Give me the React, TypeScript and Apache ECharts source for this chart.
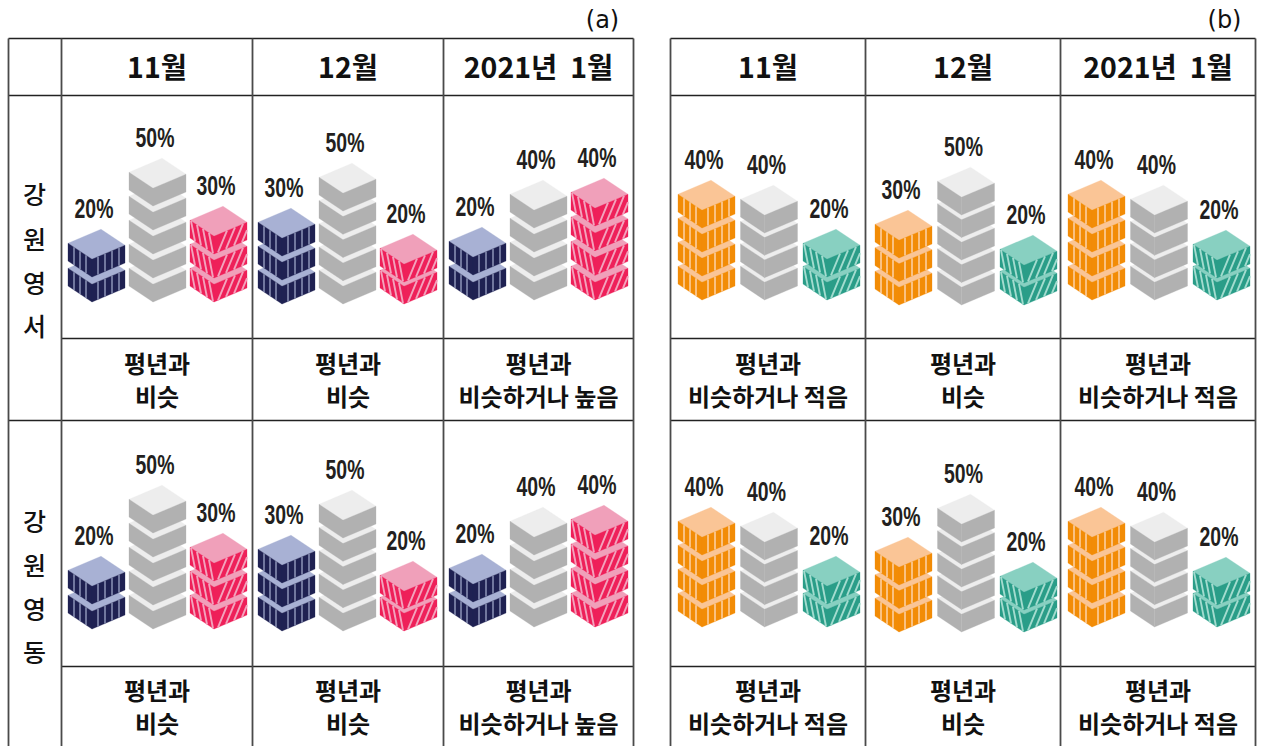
import React, { useEffect, useRef } from "react";
import * as echarts from "echarts";

// ---------- data ----------
const months = ["11월", "12월", "2021년  1월"];
const regions = [["강", "원", "영", "서"], ["강", "원", "영", "동"]];
const panelNames = ["(a)", "(b)"];
const categories = ["낮음", "비슷", "높음"];
const tempValues = [[20, 50, 30], [30, 50, 20], [20, 40, 40]];
const rainValues = [[40, 40, 20], [30, 50, 20], [40, 40, 20]];
const tempNotes = [["평년과", "비슷"], ["평년과", "비슷"], ["평년과", "비슷하거나 높음"]];
const rainNotes = [["평년과", "비슷하거나 적음"], ["평년과", "비슷"], ["평년과", "비슷하거나 적음"]];

// ---------- layout ----------
const CUBE_LEFT = 24, CUBE_RIGHT = 33, RISE_L = 16, RISE_R = 14, SIDE_RATIO = 0.74;
const PX_PER_TEN = 24;
const tables = [
  {
    cols: [8.5, 61.5, 252.5, 443.5, 633.5], firstBar: [68, 258, 449], pitch: 61, base: [302, 304, 300],
    topShift: [[-1, 0, 0], [0, 3, 2], [-1, 0, -2]],
  },
  {
    cols: [670.5, 865.5, 1060.5, 1255.5], firstBar: [678, 875, 1068], pitch: 62.5, base: [300, 305, 300],
    topShift: [[0, 5, 1], [1, 6, 2], [0, 5, 2]],
  },
];
const rows = { top: 38.5, head: 95.5, foot1: 338.5, mid: 420.5, foot2: 666.5, bottom: 746 };
const ROW_SHIFT = 327;

const styles = [
  { side: "#1f2152", top: "#a8b1d4", stripe: "#8e94b9", leanL: 0, leanR: 0, sw: 1.5, left: [6, 12, 18], right: [6, 13, 20, 27] },
  { side: "#b1b1b1", top: "#ededed", stripe: "", leanL: 0, leanR: 0, sw: 0, left: [], right: [] },
  { side: "#ee2059", top: "#f0a0ba", stripe: "#f3a3bd", leanL: -4, leanR: 9, sw: 1.9, left: [5, 11, 17, 23], right: [4, 12, 20, 28] },
  { side: "#f28c06", top: "#fac596", stripe: "#fcd3ab", leanL: 0, leanR: 0, sw: 1.5, left: [6, 12, 18], right: [6, 13, 20, 27] },
  { side: "#2a9d88", top: "#88d0c1", stripe: "#a3dccf", leanL: -4, leanR: 9, sw: 1.9, left: [5, 11, 17, 23], right: [4, 12, 20, 28] },
];

function cube(xv: number, y: number, side: number, s: any) {
  const kids: any[] = [];
  const poly = (points: number[][], fill: string) => ({
    type: "polygon", shape: { points }, style: { fill, stroke: fill, lineWidth: 0.3 },
  });
  const top = y - side;
  kids.push(poly([[xv, top], [xv - CUBE_LEFT, top - RISE_L], [xv - CUBE_LEFT + CUBE_RIGHT, top - RISE_L - RISE_R], [xv + CUBE_RIGHT, top - RISE_R]], s.top));
  kids.push(poly([[xv, top], [xv - CUBE_LEFT, top - RISE_L], [xv - CUBE_LEFT, y - RISE_L], [xv, y]], s.side));
  kids.push(poly([[xv, top], [xv + CUBE_RIGHT, top - RISE_R], [xv + CUBE_RIGHT, y - RISE_R], [xv, y]], s.side));

  // stripe from the face's lower edge to its upper edge, cut at the face's sides
  const stripe = (x0: number, x1: number, y0: number, y1: number, xb: number, lean: number) => {
    const lerp = (x: number) => y0 + (y1 - y0) * (x - x0) / (x1 - x0);
    const xt = xb + lean;
    const x2Raw = Math.max(x0, Math.min(x1, xt));
    const f = lean === 0 ? 1 : (x2Raw - xb) / lean;
    const yb = lerp(xb);
    const yt = lerp(xt) - side;
    return {
      type: "line",
      shape: { x1: xb, y1: yb, x2: xb + lean * f, y2: yb + (yt - yb) * f },
      style: { stroke: s.stripe, lineWidth: s.sw },
    };
  };
  s.left.forEach((d: number) => kids.push(stripe(xv - CUBE_LEFT, xv, y - RISE_L, y, xv - CUBE_LEFT + d, s.leanL)));
  s.right.forEach((d: number) => kids.push(stripe(xv, xv + CUBE_RIGHT, y, y - RISE_R, xv + d, s.leanR)));
  return kids;
}

function makeRenderItem(styleIdx: number[], topShift: number[]) {
  return (params: any, api: any) => {
    const cat = api.value(0);
    const val = api.value(1);
    const s = styles[styleIdx[cat]];
    const center = api.coord([cat, 0]);
    const unit = api.size([0, 10])[1];
    const side = unit * SIDE_RATIO;
    const xv = center[0] + (CUBE_LEFT + CUBE_RIGHT) / 2 - CUBE_RIGHT;
    const n = Math.round(val / 10);
    const children: any[] = [];
    const yOf = (i: number) => api.coord([cat, i * 10])[1] + topShift[cat] * i / Math.max(n - 1, 1);
    for (let i = 0; i < n; i++) children.push(...cube(xv, yOf(i), side, s));
    const apexY = yOf(n - 1) - side - RISE_L - RISE_R;
    children.push({
      type: "text", x: xv + 2, y: apexY - 20, scaleX: 0.72,
      style: {
        text: val + "%", fontFamily: "'Liberation Sans', sans-serif", fontWeight: 700, fontSize: 27,
        fill: "#231f20", align: "center", verticalAlign: "middle",
      },
    });
    return { type: "group", children };
  };
}

function buildOption() {
  const grids: any[] = [], xAxes: any[] = [], yAxes: any[] = [], series: any[] = [], graphic: any[] = [];
  const textFont = "'Noto Sans CJK KR', sans-serif";
  const label = (text: string, x: number, y: number, fontSize: number, fontWeight: number, family = textFont) => ({
    type: "text", x, y, silent: true,
    style: { text, x: 0, y: 0, fontFamily: family, fontSize, fontWeight, fill: "#111", align: "center", verticalAlign: "middle" },
  });
  const hLine = (x1: number, x2: number, y: number) => ({
    type: "line", silent: true, shape: { x1, y1: y, x2, y2: y }, style: { stroke: "#222", lineWidth: 1.6 },
  });
  const vLine = (x: number) => ({
    type: "line", silent: true, shape: { x1: x, y1: rows.top, x2: x, y2: rows.bottom }, style: { stroke: "#4a4a4a", lineWidth: 1.8 },
  });

  tables.forEach((t, ti) => {
    const values = ti === 0 ? tempValues : rainValues;
    const notes = ti === 0 ? tempNotes : rainNotes;
    const styleIdx = ti === 0 ? [0, 1, 2] : [3, 1, 4];
    const cols = t.cols;
    const dataCols = ti === 0 ? cols.slice(1) : cols;
    const first = cols[0], last = cols[cols.length - 1];
    const inner = dataCols[0];
    graphic.push(hLine(first, last, rows.top), hLine(first, last, rows.head), hLine(inner, last, rows.foot1),
      hLine(first, last, rows.mid), hLine(inner, last, rows.foot2));
    cols.forEach((x) => graphic.push(vLine(x)));
    graphic.push(label(panelNames[ti], last - 31, 20, 24, 400, "'DejaVu Sans', sans-serif"));

    for (let c = 0; c < 3; c++) {
      const cx = (dataCols[c] + dataCols[c + 1]) / 2;
      graphic.push(label(months[c], cx, 65, 28.5, 700));
      [0, 1].forEach((r) => {
        const shift = r * ROW_SHIFT;
        const noteY = r === 0 ? 362 : 689;
        graphic.push(label(notes[c][0], cx, noteY, 24, 700));
        graphic.push(label(notes[c][1], cx, noteY + 33, 24, 700));

        const gi = grids.length;
        const height = PX_PER_TEN * 10;
        const base = t.base[c] + shift;
        grids.push({
          left: t.firstBar[c] + (CUBE_LEFT + CUBE_RIGHT) / 2 - t.pitch / 2,
          width: t.pitch * 3,
          top: base - height,
          height,
        });
        xAxes.push({ type: "category", gridIndex: gi, data: categories, show: false });
        yAxes.push({ type: "value", gridIndex: gi, min: 0, max: 100, show: false });
        series.push({
          type: "custom",
          xAxisIndex: gi,
          yAxisIndex: gi,
          silent: true,
          clip: false,
          renderItem: makeRenderItem(styleIdx, t.topShift[c]),
          encode: { x: 0, y: 1 },
          data: values[c].map((v, i) => [i, v]),
        });
      });
    }
  });

  regions.forEach((chars, r) => {
    const ys = r === 0 ? [193, 238, 282, 325] : [520, 564, 608, 651];
    chars.forEach((ch, i) => graphic.push(label(ch, 34.5, ys[i], 25, 500)));
  });

  return { animation: false, backgroundColor: "#fff", grid: grids, xAxis: xAxes, yAxis: yAxes, series, graphic: { elements: graphic } };
}

export default function App() {
  const ref = useRef<HTMLDivElement>(null);
  useEffect(() => {
    const chart = echarts.init(ref.current!, undefined, { renderer: "svg" });
    chart.setOption(buildOption());
    return () => chart.dispose();
  }, []);
  return <div ref={ref} style={{ position: "fixed", left: 0, top: 0, width: 1262, height: 746 }} />;
}
